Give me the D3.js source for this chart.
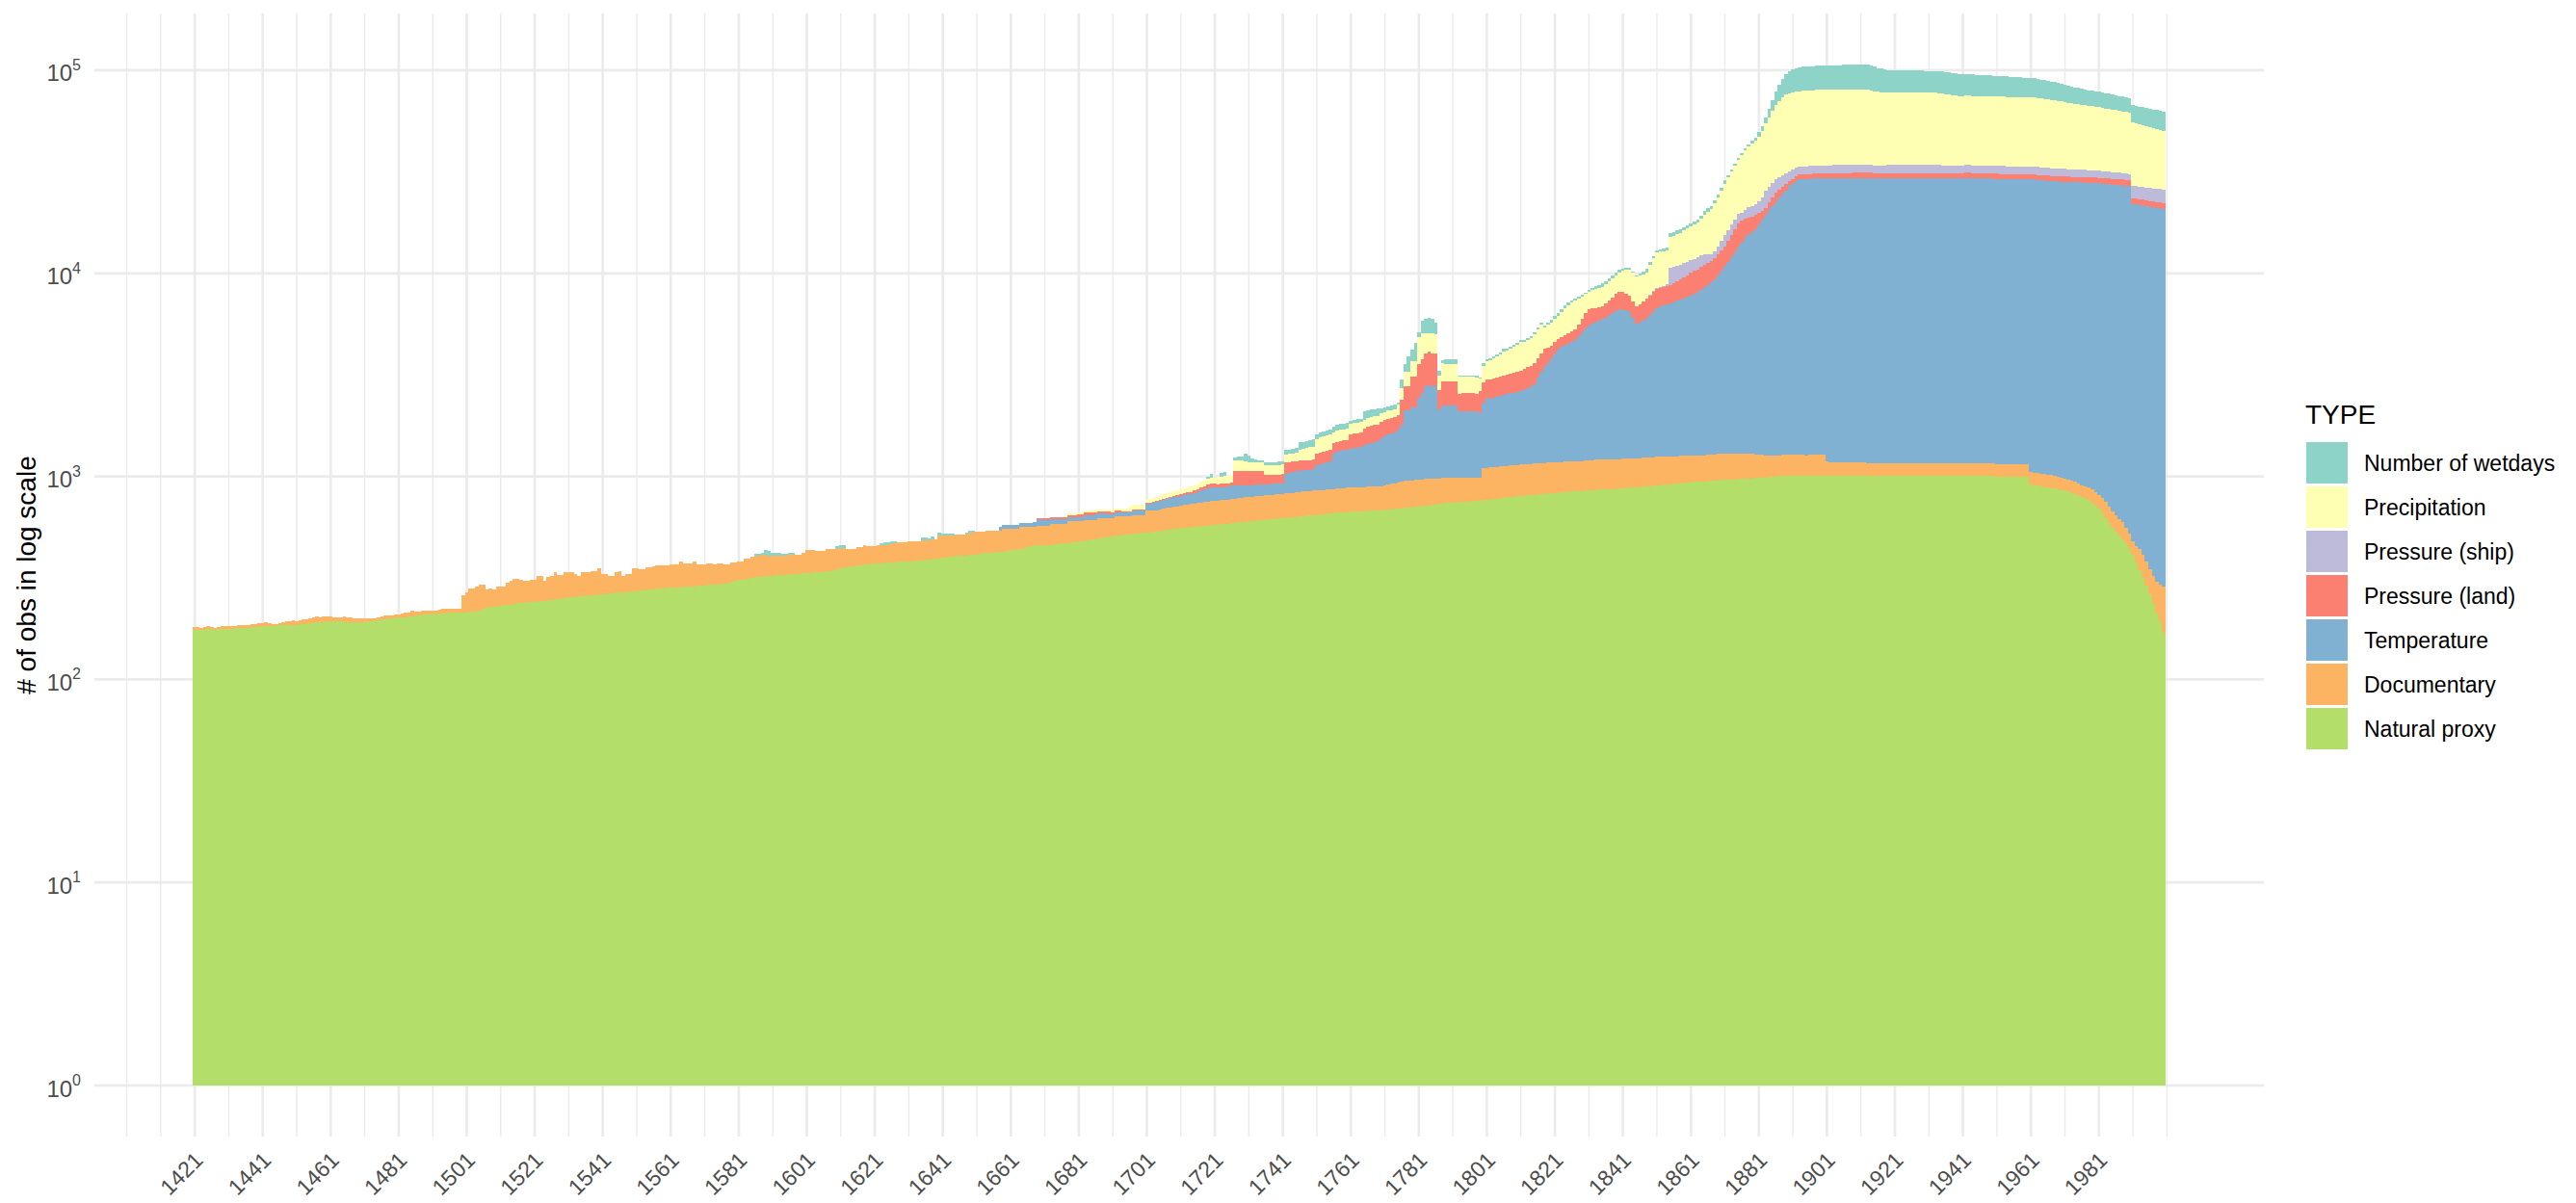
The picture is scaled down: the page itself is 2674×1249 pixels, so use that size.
<!DOCTYPE html>
<html>
  <head>
    <title>obs by type</title>
    <meta http-equiv="Content-Type" content="text/html; charset=UTF-8">
    <script src="https://d3js.org/d3.v7.min.js"></script>
    <style>
      body { margin: 0; background: #ffffff; }
      text { font-family: "Liberation Sans", Arial, sans-serif; }
    </style>
  </head>

  <body>
    <div id="chart"></div>

    <script>
      // stack order, bottom to top
      var types = ["Natural proxy", "Documentary", "Temperature", "Pressure (land)",
                   "Pressure (ship)", "Precipitation", "Number of wetdays"];
      var colors = ["#B3DE69", "#FDB462", "#80B1D3", "#FB8072", "#BEBADA", "#FFFFB3", "#8DD3C7"];
      var xTickYears = [1421, 1441, 1461, 1481, 1501, 1521, 1541, 1561, 1581, 1601, 1621, 1641, 1661,
                        1681, 1701, 1721, 1741, 1761, 1781, 1801, 1821, 1841, 1861, 1881, 1901, 1921,
                        1941, 1961, 1981];
      var yTickPowers = [0, 1, 2, 3, 4, 5];
      var firstYear = 1421, lastYear = 2000;

      // one value per year, ten years per line
      var naturalStart = 1421;
      var natural = [
        176,176,175,176,177,177,176,177,177,178,
        178,178,179,179,179,180,180,181,181,182,
        184,184,184,183,183,185,185,186,186,186,
        186,187,188,188,189,190,191,192,192,193,
        194,194,194,193,193,192,192,192,192,192,
        192,193,194,195,196,197,198,199,200,201,
        201,202,203,204,205,206,207,208,209,210,
        211,211,212,212,212,213,213,213,213,214,
        214,215,216,216,218,222,226,229,229,230,
        231,233,233,234,236,237,238,239,240,240,
        241,242,243,244,245,246,248,249,250,251,
        253,254,255,256,257,258,259,260,261,262,
        263,264,265,266,267,268,268,269,270,271,
        272,273,274,276,277,278,279,280,281,282,
        283,284,284,285,286,287,288,288,289,290,
        291,292,293,293,294,295,296,298,302,306,
        308,310,312,314,316,318,319,320,322,323,
        324,325,326,327,328,329,330,331,332,333,
        333,334,336,337,338,339,341,343,344,347,
        351,355,357,359,361,363,365,367,369,371,
        372,373,374,375,376,377,378,379,380,381,
        381,382,383,384,385,387,389,391,393,395,
        397,399,401,403,405,406,407,408,409,410,
        412,415,418,420,421,422,423,424,426,429,
        432,435,438,441,444,448,452,456,457,458,
        459,460,460,462,464,466,468,470,472,474,
        477,480,483,486,489,492,495,498,501,504,
        507,510,512,515,517,519,521,523,525,527,
        529,531,533,535,538,541,544,547,550,553,
        556,559,561,563,565,567,569,571,573,575,
        577,579,581,583,585,588,591,594,597,599,
        601,603,605,607,609,611,613,615,617,619,
        621,623,626,629,632,635,638,641,643,645,
        646,649,651,654,656,659,661,664,666,668,
        670,671,672,673,674,676,677,678,680,682,
        684,686,689,691,694,696,699,701,704,707,
        710,714,717,721,724,728,731,735,739,741,
        743,745,747,749,751,753,755,757,759,762,
        765,769,773,777,781,785,789,792,795,798,
        801,804,807,810,813,815,818,821,824,826,
        829,831,834,836,839,841,844,846,849,851,
        853,855,857,859,861,863,865,867,869,872,
        875,877,880,882,885,887,890,893,896,899,
        902,906,909,912,916,919,923,926,930,933,
        936,940,943,946,947,950,953,955,957,959,
        961,963,965,967,969,971,973,975,978,981,
        984,987,990,993,996,999,1002,1005,1008,1010,
        1011,1011,1011,1011,1011,1011,1011,1011,1011,1011,
        1011,1011,1011,1011,1011,1011,1011,1011,1011,1011,
        1011,1011,1011,1011,1011,1011,1011,1011,1011,1011,
        1011,1011,1011,1011,1011,1011,1011,1011,1011,1011,
        1011,1011,1011,1011,1011,1011,1011,1011,1011,1011,
        1011,1011,1011,1011,1011,1011,1011,1011,1011,1011,
        1000,1000,1000,1000,1000,1000,1000,1000,1000,1000,
        915,905,898,892,886,880,875,870,865,858,
        850,843,830,818,805,790,780,765,745,720,
        695,660,625,590,560,535,512,490,466,440,
        412,375,345,318,290,262,235,212,192,170
      ];

      var documentaryStart = 1421;
      var documentary = [
        6,5,4,6,6,5,4,5,6,6,
        6,6,5,6,7,6,5,6,7,7,
        6,7,6,5,5,5,6,7,8,9,
        8,9,10,9,11,12,14,10,12,12,
        10,9,8,9,12,9,10,8,8,8,
        7,6,5,5,6,8,8,7,7,8,
        8,9,10,10,12,9,8,10,9,8,
        8,8,9,10,10,10,10,10,10,46,
        53,65,64,70,76,72,51,51,48,58,
        57,53,65,73,76,75,71,68,67,69,
        68,80,79,63,73,78,88,78,77,88,
        83,82,75,68,79,80,79,81,82,92,
        68,67,57,56,69,75,56,62,61,80,
        82,77,76,80,79,84,85,84,83,84,
        86,83,85,96,88,87,86,93,78,79,
        78,82,81,76,80,79,73,71,75,71,
        73,71,80,78,84,89,88,90,88,80,
        83,82,81,80,79,81,80,79,78,85,
        100,99,97,93,92,91,97,95,94,91,
        93,89,84,82,80,86,84,93,85,83,
        82,87,86,85,84,89,88,96,95,94,
        98,97,96,95,98,96,94,101,99,115,
        113,111,109,107,111,110,109,108,120,119,
        121,118,115,118,117,116,115,114,126,123,
        120,117,114,124,121,117,113,109,116,115,
        114,113,126,124,122,120,118,131,129,127,
        124,121,129,126,123,120,129,126,123,120,
        117,124,122,119,117,115,125,123,121,119,
        153,151,149,147,150,152,154,156,158,160,
        162,164,166,168,170,172,174,176,178,180,
        181,182,183,184,185,186,187,188,189,190,
        191,192,193,194,195,196,197,198,199,200,
        200,201,201,202,202,203,203,204,204,205,
        205,206,206,207,207,208,208,209,209,210,
        210,211,211,212,212,213,213,214,214,215,
        220,225,230,235,240,245,250,252,254,256,
        255,254,253,252,250,249,248,246,244,242,
        240,238,236,234,232,230,228,225,222,336,
        336,337,337,338,338,339,339,340,340,341,
        341,342,342,343,343,344,346,345,344,344,
        343,344,344,345,345,345,344,344,342,344,
        347,350,353,355,355,353,351,350,348,346,
        345,345,344,344,343,343,343,343,344,346,
        346,344,343,342,339,337,335,334,332,330,
        328,325,323,321,321,325,327,330,333,336,
        336,334,332,330,328,326,324,322,319,304,
        296,288,280,275,272,271,270,269,268,268,
        267,267,265,263,261,264,267,269,267,265,
        176,167,167,167,167,167,167,167,167,167,
        167,167,153,153,153,153,153,153,153,153,
        153,153,153,153,153,153,153,153,153,153,
        153,153,153,153,153,153,153,153,153,153,
        153,153,153,153,153,153,153,153,153,153,
        153,153,153,153,153,153,153,153,153,153,
        141,140,140,140,139,139,139,139,135,132,
        128,125,122,120,118,116,115,114,115,116,
        118,122,126,118,110,105,106,108,90,80,
        69,80,92,92,91,86,88,92,100,116
      ];

      var temperatureStart = 1651;
      var temperature = [
        0,0,0,0,0,0,0,24,25,25,
        26,26,27,27,26,26,27,28,39,40,
        38,37,30,31,30,29,30,29,28,29,
        30,31,34,34,33,35,30,30,30,29,
        28,28,28,27,28,29,31,31,32,31,
        51,55,60,65,70,72,75,78,80,82,
        84,86,88,90,95,100,110,120,125,130,
        125,120,118,120,122,125,120,118,116,114,
        112,110,110,108,108,106,105,105,104,105,
        106,210,215,220,225,230,228,230,232,235,
        280,290,300,310,320,430,450,465,470,475,
        490,500,505,510,540,560,575,580,590,640,
        670,690,700,720,761,848,1160,1156,1229,1224,
        1485,1607,1799,1849,1795,1792,1169,1249,1245,1250,
        1248,1245,1107,1110,1105,1108,1110,1100,1077,1199,
        1335,1300,1320,1350,1380,1400,1420,1440,1450,1470,
        1480,1550,1580,1620,1700,1900,2100,2277,2450,2650,
        2850,3035,3150,3250,3330,3400,3500,3700,3950,4150,
        4333,4450,4550,4650,4730,4850,5000,5150,5300,5416,
        5400,5380,5200,4800,4403,4500,4650,4764,5000,5250,
        5512,5600,5700,5780,5845,5950,6050,6140,6280,6400,
        6536,6700,6844,7000,7250,7500,7760,8100,8500,9000,
        9543,10100,10700,11400,12183,12900,13600,14300,14700,15215,
        16200,17200,18230,19200,20200,21190,22300,23300,24224,25682,
        26400,27100,27714,27800,27900,27950,28000,28050,28100,28150,
        28200,28250,28300,28322,28320,28330,28340,28350,28360,28370,
        28380,28390,28400,28400,28300,28200,28250,28300,28350,28350,
        28350,28350,28350,28350,28350,28350,28350,28350,28350,28350,
        28350,28350,28350,28350,28300,28300,28250,28250,28200,28200,
        28300,28400,28400,28300,28200,28200,28150,28100,28100,28050,
        28050,28000,28000,27950,27950,27950,27900,27900,27900,27900,
        27934,27900,27850,27800,27700,27600,27500,27450,27400,27281,
        27250,27220,27200,27180,27150,27120,27100,27050,27000,26950,
        26900,26850,26800,26750,26700,26650,26600,26500,26457,26300,
        21489,21350,21250,21150,21050,20950,20850,20750,20650,20505
      ];

      var pressureLandStart = 1661;
      var pressureLand = [
        0,0,0,0,0,0,0,0,8,9,
        9,10,10,11,11,12,12,14,15,16,
        17,18,19,19,20,20,19,18,18,17,
        16,15,14,14,13,12,12,11,10,10,
        8,8,9,9,10,11,12,12,13,14,
        15,16,17,18,20,22,25,30,32,34,
        35,35,36,34,33,34,160,158,156,155,
        155,154,152,150,150,100,98,96,96,98,
        100,133,133,132,130,125,124,125,126,127,
        165,168,170,172,172,160,160,158,160,162,
        240,245,245,248,300,310,314,316,318,320,
        320,322,320,318,300,605,660,660,903,903,
        1124,1203,1281,1310,1281,1281,522,695,697,700,
        698,695,470,470,475,470,468,470,560,600,
        550,580,590,600,600,610,620,640,660,680,
        700,700,720,740,750,760,780,807,700,600,
        550,530,540,550,560,580,590,700,850,1000,
        1100,1050,1000,960,944,1050,1150,1250,1380,1476,
        1450,1370,1320,1280,1257,1300,1400,1500,1550,1600,
        1653,1640,1630,1630,1630,1700,1800,1900,2000,2100,
        2250,2300,2360,2450,2500,2500,2500,2550,2600,2620,
        2640,3000,3400,3800,4220,3900,3600,3300,3100,2900,
        2400,1900,1500,1900,2300,2620,2300,2100,2000,1540,
        1560,1590,1610,1620,1630,1640,1650,1660,1670,1680,
        1690,1700,1700,1700,1700,1700,1700,1700,1700,1700,
        1700,1700,1700,1700,1700,1650,1650,1700,1700,1700,
        1700,1700,1700,1700,1700,1700,1700,1700,1700,1700,
        1700,1700,1700,1700,1700,1700,1700,1700,1700,1700,
        1700,1700,1700,1700,1700,1700,1700,1700,1700,1700,
        1700,1690,1680,1670,1660,1650,1640,1630,1620,1610,
        1620,1630,1640,1650,1660,1670,1680,1690,1700,1710,
        1720,1730,1740,1750,1760,1770,1780,1790,1800,1810,
        1820,1830,1840,1850,1860,1870,1880,1890,1900,1900,
        1490,1480,1470,1460,1450,1440,1420,1400,1390,1370
      ];

      var pressureShipStart = 1841;
      var pressureShip = [
        0,0,0,0,0,0,0,30,50,60,
        80,100,120,150,1900,1850,1800,1750,1700,1650,
        1600,1550,1500,1500,1400,1100,820,900,1100,1500,
        2000,2000,2000,1950,1900,1850,2000,2200,2400,2600,
        2640,3200,4500,4300,4100,4000,3800,3600,3400,3300,
        3200,3100,2900,2900,2900,2900,2900,2900,2900,2900,
        2950,2950,2950,2950,2900,2900,2900,2900,2900,2900,
        2900,2900,2900,2900,2850,2800,2850,2900,2900,2900,
        2900,2900,2900,2900,2900,2900,2900,2900,2900,2900,
        2900,2900,2900,2900,2900,2900,2900,2900,2900,2900,
        2900,2900,2900,2900,2900,2900,2900,2900,2900,2900,
        2900,2900,2900,2900,2900,2900,2900,2900,2900,2900,
        2900,2880,2860,2840,2820,2800,2780,2760,2740,2720,
        2700,2680,2660,2640,2620,2600,2560,2520,2480,2440,
        2400,2360,2320,2280,2240,2200,2160,2120,2100,2100,
        3540,3550,3560,3570,3580,3590,3600,3610,3620,3640
      ];

      var precipitationStart = 1671;
      var precipitation = [
        0,0,0,0,0,0,10,12,14,14,
        15,15,16,16,16,17,17,18,18,18,
        18,18,19,19,20,35,37,38,38,38,
        30,32,34,36,40,42,44,45,46,48,
        50,52,54,55,56,58,60,60,62,65,
        70,75,80,82,85,85,135,140,138,130,
        120,112,110,110,110,118,120,118,116,118,
        120,112,112,115,118,160,170,180,185,190,
        230,240,245,250,250,190,195,195,198,200,
        200,205,205,210,180,182,182,184,185,185,
        184,184,185,185,273,328,495,495,619,619,
        1297,1272,1000,918,1000,960,478,675,649,650,
        655,660,530,530,530,530,530,530,420,600,
        719,750,800,850,900,1000,1000,1050,1100,1150,
        1270,1200,1250,1300,1400,1480,1560,1185,1250,1320,
        1400,1460,1600,1750,1900,2000,2070,1900,1700,1550,
        1476,1550,1600,1650,1710,1750,1800,1850,1900,1940,
        2200,2500,2700,2800,2810,2700,2600,2550,3200,3700,
        4247,4200,4150,4100,4500,4600,4700,4800,5000,5200,
        5400,5600,5900,6400,7100,7800,8400,9200,10100,11100,
        12200,13200,14200,15400,16700,18200,19700,21200,22200,23200,
        24700,26700,29200,32000,35000,38200,40800,43200,44800,45500,
        45300,45300,45300,45500,45700,45900,46000,46100,46200,46200,
        46200,46200,46200,46200,46100,46100,46000,46000,46000,45900,
        45900,45900,45900,45400,44900,44400,43900,43500,43300,43300,
        43300,43300,43300,43300,43300,43300,43300,43300,43300,43300,
        43300,43300,43300,43000,42600,42200,41800,41400,41000,40660,
        40700,40700,40700,40700,40700,40700,40700,40700,40700,40600,
        40500,40400,40300,40200,40100,40000,39900,39900,39850,39850,
        39800,39800,39500,39200,38900,38600,38300,38000,37700,37400,
        37100,36700,36300,35900,35600,35300,35000,34700,34400,34100,
        33800,33500,33200,32900,32600,32300,32000,31600,31300,31000,
        28200,27800,27400,27000,26600,26200,25800,25400,24900,24350
      ];

      var wetdaysStart = 1581;
      var wetdays = [
        0,0,0,0,0,8,10,12,26,24,
        15,15,14,10,10,8,10,0,0,0,
        0,0,0,0,0,0,0,0,0,14,
        16,12,0,0,0,0,0,0,0,0,
        0,0,10,12,14,15,14,0,0,0,
        0,0,0,0,15,15,14,16,0,16,
        15,14,13,12,0,0,0,13,13,12,
        0,0,0,0,0,0,0,0,0,0,
        0,0,0,0,0,0,0,0,0,0,
        0,0,0,0,0,0,0,0,0,0,
        0,0,0,0,0,0,0,0,0,0,
        0,0,0,0,0,0,0,0,0,0,
        0,0,0,0,0,0,0,0,0,0,
        0,0,0,0,0,0,0,0,30,50,
        0,0,40,50,0,0,50,50,60,100,
        90,60,40,30,30,40,40,40,40,45,
        45,70,70,70,70,115,115,110,115,120,
        90,90,90,90,90,115,115,115,115,115,
        70,70,70,70,178,175,170,175,178,110,
        110,110,110,110,52,290,310,653,501,817,
        274,796,900,1007,900,730,177,150,204,200,
        200,200,58,58,58,58,58,58,40,100,
        69,80,85,90,95,100,90,95,95,100,
        100,80,80,90,90,100,98,98,120,150,
        180,200,200,200,200,200,200,180,170,160,
        150,200,250,280,300,300,320,330,340,350,
        300,190,150,120,100,200,300,420,350,300,
        240,350,450,550,600,650,680,700,600,550,
        500,550,600,650,700,730,760,800,850,920,
        990,900,800,750,700,800,900,1000,1200,1500,
        2500,3000,4000,6000,8000,11000,14000,17000,20000,22000,
        23000,24000,24700,24800,24900,25000,25100,25200,25200,25200,
        25300,25400,25500,25600,25800,26000,26200,26400,26600,26600,
        26600,26600,26600,25900,25200,24500,23900,23400,23100,23000,
        22900,22800,22700,22600,22500,22400,22300,22200,22100,22000,
        21900,21800,21700,21700,21700,21650,21600,21600,21550,21540,
        21300,21100,20900,20700,20500,20300,20100,19940,19800,19700,
        19600,19500,19400,19300,19100,19000,18800,18700,18500,18400,
        18250,18100,17800,17500,17200,16900,16600,16300,16000,15700,
        15300,14900,14500,14100,13700,13300,13000,12900,12800,12700,
        12600,12500,12300,12100,11900,11700,11500,11400,11300,11200,
        12300,12300,12250,12250,12200,12200,12200,12150,12150,12150
      ];

      var series = [
        {start: naturalStart, values: natural},
        {start: documentaryStart, values: documentary},
        {start: temperatureStart, values: temperature},
        {start: pressureLandStart, values: pressureLand},
        {start: pressureShipStart, values: pressureShip},
        {start: precipitationStart, values: precipitation},
        {start: wetdaysStart, values: wetdays}
      ];

      var years = d3.range(firstYear, lastYear + 1);
      var rows = years.map(function (yr) {
        var row = {year: yr};
        series.forEach(function (s, i) {
          var v = s.values[yr - s.start];
          row[types[i]] = v ? v : 0;
        });
        return row;
      });
      var stacked = d3.stack().keys(types)(rows);

      var width = 2674, height = 1249;
      var panel = {left: 98, right: 2350, top: 14, bottom: 1180};
      var grid = "#EBEBEB";

      // ggplot style 5% expansion on both axes
      var xLo = firstYear - 0.5, xHi = lastYear + 0.5, xPad = (xHi - xLo) * 0.05;
      var x = d3.scaleLinear().domain([xLo - xPad, xHi + xPad]).range([panel.left, panel.right]);
      var topLog = Math.log10(d3.max(stacked[stacked.length - 1], function (d) { return d[1]; }));
      var y = d3.scaleLog()
        .domain([Math.pow(10, -0.05 * topLog), Math.pow(10, 1.05 * topLog)])
        .range([panel.bottom, panel.top]);

      var svg = d3.select("#chart").append("svg")
        .attr("width", width).attr("height", height)
        .style("background", "#ffffff");

      // grid
      var minorYears = d3.range(1401, 2010, 10).filter(function (v) { return xTickYears.indexOf(v) < 0; });
      var g = svg.append("g");
      g.selectAll("line.minor").data(minorYears).join("line")
        .attr("x1", function (d) { return x(d); }).attr("x2", function (d) { return x(d); })
        .attr("y1", panel.top).attr("y2", panel.bottom)
        .attr("stroke", grid).attr("stroke-width", 1.4);
      g.selectAll("line.majorx").data(xTickYears).join("line")
        .attr("x1", function (d) { return x(d); }).attr("x2", function (d) { return x(d); })
        .attr("y1", panel.top).attr("y2", panel.bottom)
        .attr("stroke", grid).attr("stroke-width", 2.7);
      g.selectAll("line.majory").data(yTickPowers).join("line")
        .attr("x1", panel.left).attr("x2", panel.right)
        .attr("y1", function (d) { return y(Math.pow(10, d)); })
        .attr("y2", function (d) { return y(Math.pow(10, d)); })
        .attr("stroke", grid).attr("stroke-width", 2.7);

      // bars
      svg.append("g").selectAll("g").data(stacked).join("g")
        .attr("fill", function (d, i) { return colors[i]; })
        .selectAll("rect")
        .data(function (d) { return d.filter(function (p) { return p[1] > p[0]; }); })
        .join("rect")
        .attr("x", function (p) { return x(p.data.year - 0.5); })
        .attr("width", function (p) { return x(p.data.year + 0.5) - x(p.data.year - 0.5); })
        .attr("y", function (p) { return y(p[1]); })
        .attr("height", function (p) { return y(Math.max(p[0], 1)) - y(p[1]); })
        .attr("shape-rendering", "crispEdges");

      // y axis labels 10^k
      var yl = svg.append("g").selectAll("text").data(yTickPowers).join("text")
        .attr("x", 84)
        .attr("y", function (d) { return y(Math.pow(10, d)) + 11.5; })
        .attr("text-anchor", "end")
        .attr("fill", "#4D4D4D")
        .style("font-size", "24px");
      yl.append("tspan").text("10");
      yl.append("tspan").attr("dy", -11.5).style("font-size", "16px")
        .text(function (d) { return d; });

      // x axis labels
      svg.append("g").selectAll("text").data(xTickYears).join("text")
        .attr("transform", function (d) { return "translate(" + (x(d) + 10) + ",1206) rotate(-45)"; })
        .attr("text-anchor", "end")
        .attr("fill", "#4D4D4D")
        .style("font-size", "23px")
        .text(function (d) { return d; });

      svg.append("text")
        .attr("transform", "translate(37," + ((panel.top + panel.bottom) / 2) + ") rotate(-90)")
        .attr("text-anchor", "middle")
        .attr("fill", "#000000")
        .style("font-size", "28px")
        .text("# of obs in log scale");

      // legend (top entry is the top of the stack)
      var legend = svg.append("g");
      legend.append("text").attr("x", 2393).attr("y", 440)
        .style("font-size", "28px").attr("fill", "#000000").text("TYPE");
      var order = d3.range(types.length).reverse();
      var item = legend.selectAll("g.item").data(order).join("g")
        .attr("transform", function (d, i) { return "translate(2394," + (459 + i * 46) + ")"; });
      item.append("rect").attr("width", 43).attr("height", 43)
        .attr("fill", function (d) { return colors[d]; });
      item.append("text").attr("x", 60).attr("y", 29.5)
        .style("font-size", "23px").attr("fill", "#000000")
        .text(function (d) { return types[d]; });
    </script>
  </body>
</html>
